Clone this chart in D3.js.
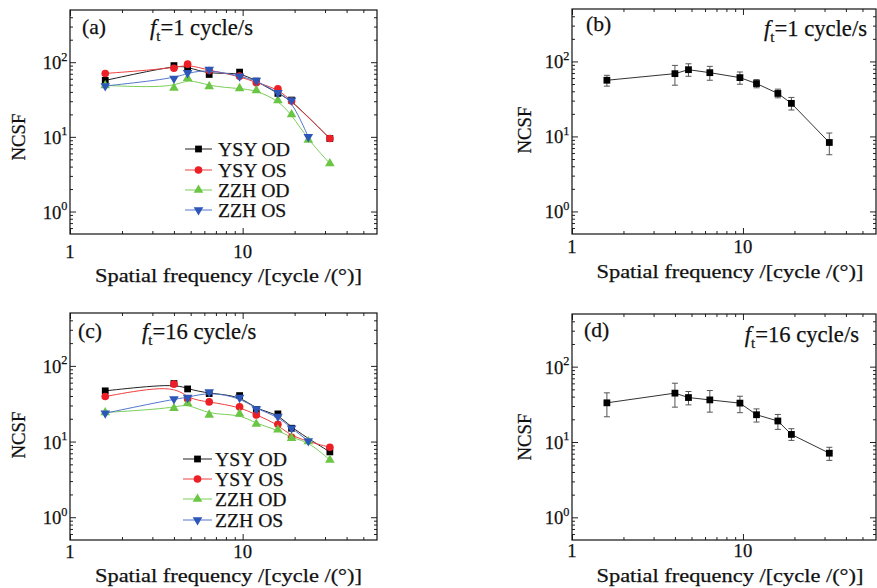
<!DOCTYPE html>
<html><head><meta charset="utf-8">
<script src="https://cdn.jsdelivr.net/npm/d3@7/dist/d3.min.js"></script>
<style>
html,body{margin:0;padding:0;background:#fff;}
svg{display:block;}
text{font-family:"Liberation Serif","Times New Roman",serif;fill:#111;stroke:#111;stroke-width:0.25px;}
</style></head>
<body>
<svg id="chart" width="877" height="588"></svg>
<script>
// ---------- data ----------
const ysyFreq = [1.6, 4, 4.8, 6.4, 9.6, 12, 16, 19.2, 32];
const zzhOdFreq = [1.6, 4, 4.8, 6.4, 9.6, 12, 16, 19.2, 24, 32];
const zzhOsFreq = [1.6, 4, 4.8, 6.4, 9.6, 12, 16, 19.2, 24];
const avgFreq = [1.6, 4, 4.8, 6.4, 9.6, 12, 16, 19.2, 32];

// panel (a): f_t = 1 cycle/s
const aYsyOD = [57, 90, 87, 68.5, 73.6, 55.8, 38.2, 31.1, 9.5];
const aYsyOS = [70.6, 83, 94, 77.4, 65, 53, 44, 30.2, 9.5];
const aZzhOD = [48.8, 45, 61.2, 47.4, 44.6, 41.9, 30.8, 19.9, 9.1, 4.4];
const aZzhOS = [48, 60.5, 72, 79.8, 65, 57, 39, 31, 10];

// panel (b): mean with error bars, f_t = 1 cycle/s
const bMean = [56.1, 68.7, 77.6, 70.8, 60.8, 50.7, 37.4, 27.6, 8.3];
const bHigh = [65.3, 88.5, 93, 85.9, 72.3, 57.3, 42.7, 33.1, 11.1];
const bLow  = [46.8, 48.2, 63.4, 56.1, 49.6, 44.5, 32.7, 22.5, 5.7];

// panel (c): f_t = 16 cycle/s
const cYsyOD = [46.8, 58.5, 49.6, 43.1, 40.5, 26.5, 23.2, 15, 7.3];
const cYsyOS = [39.4, 57.3, 36.6, 33.4, 28.7, 22.5, 16.9, 11.4, 8.4];
const cZzhOD = [24.2, 27.6, 32.1, 22.5, 23.2, 17.1, 14.3, 11.1, 10, 5.7];
const cZzhOS = [23.7, 36.6, 38.1, 45.3, 38.1, 27, 21.4, 15, 10.2];

// panel (d): mean with error bars, f_t = 16 cycle/s
const dMean = [33.1, 44.5, 38.9, 36.2, 32.8, 23, 19, 12.6, 7.1];
const dHigh = [44.9, 60.3, 46.8, 48.2, 40.5, 27.5, 23.2, 15, 8.5];
const dLow  = [21.6, 29, 31.1, 24.9, 24.5, 18.4, 14.7, 10.5, 5.7];

const seriesNames = ["YSY OD", "YSY OS", "ZZH OD", "ZZH OS"];
const xTickLabels = ["1", "10"];
const xMajor = [1, 10];
const xMinor = [2,3,4,5,6,7,8,9,20,30,40,50];
const yMajor = [1, 10, 100];
const yMajorExp = ["0", "1", "2"];
const yMinor = [0.6,0.7,0.8,0.9,2,3,4,5,6,7,8,9,20,30,40,50,60,70,80,90,200,300,400];
const xDomain = [1, 60];
const yDomain = [0.5, 500];
const xTitle = "Spatial frequency /[cycle /(°)]";
const yTitle = "NCSF";

// ---------- styles ----------
const styles = [
  {color:"#000000", line:"#222222", sym:d3.symbolSquare, size:46, rot:0},
  {color:"#ec1f26", line:"#ee4040", sym:d3.symbolCircle, size:46, rot:0},
  {color:"#6cc646", line:"#7acf58", sym:d3.symbolTriangle, size:40, rot:0},
  {color:"#2c56b8", line:"#5277cc", sym:d3.symbolTriangle, size:40, rot:180}
];

const svg = d3.select("#chart");
svg.append("rect").attr("width",877).attr("height",588).attr("fill","#fff");

function measure(str, size){
  const t = svg.append("text").attr("font-size",size).text(str);
  const w = t.node().getComputedTextLength();
  t.remove();
  return w;
}
function addFt(parent, size, rest){
  const ft = parent.append("text").attr("font-size",size);
  ft.append("tspan").attr("font-style","italic").text("f");
  ft.append("tspan").attr("dy",6).attr("font-size",size*0.65).text("t");
  ft.append("tspan").attr("dy",-6).text(rest);
  return ft;
}
const k = 72 / measure("YSY OD", 20);
const fsLegend = 20*k;
const fsTick = Math.min(24, 19*k);
const fsLetter = 20 * 24 / measure("(a)", 20);
const fsNcsf = 20 * 47 / measure("NCSF", 20);
const tmpFt = addFt(svg, 20, "=1 cycle/s");
const fsFt = Math.min(26, 20 * 103 / tmpFt.node().getComputedTextLength());
tmpFt.remove();

function makePanel(p){
  const g = svg.append("g");
  const x = d3.scaleLog().domain(xDomain).range([p.x0, p.x1]);
  const y = d3.scaleLog().domain(yDomain).range([p.y1, p.y0]);
  const axStyle = sel => { sel.select(".domain").remove(); sel.selectAll("line").attr("stroke","#222").attr("stroke-width",1); sel.selectAll("text").remove(); };
  g.append("g").attr("transform",`translate(0,${p.y1})`).call(d3.axisBottom(x).tickValues(xMajor).tickSize(-6)).call(axStyle);
  g.append("g").attr("transform",`translate(0,${p.y1})`).call(d3.axisBottom(x).tickValues(xMinor).tickSize(-3)).call(axStyle);
  g.append("g").attr("transform",`translate(0,${p.y0})`).call(d3.axisTop(x).tickValues(xMajor).tickSize(-6)).call(axStyle);
  g.append("g").attr("transform",`translate(0,${p.y0})`).call(d3.axisTop(x).tickValues(xMinor).tickSize(-3)).call(axStyle);
  g.append("g").attr("transform",`translate(${p.x0},0)`).call(d3.axisLeft(y).tickValues(yMajor).tickSize(-6)).call(axStyle);
  g.append("g").attr("transform",`translate(${p.x0},0)`).call(d3.axisLeft(y).tickValues(yMinor).tickSize(-3)).call(axStyle);
  g.append("g").attr("transform",`translate(${p.x1},0)`).call(d3.axisRight(y).tickValues(yMajor).tickSize(-6)).call(axStyle);
  g.append("g").attr("transform",`translate(${p.x1},0)`).call(d3.axisRight(y).tickValues(yMinor).tickSize(-3)).call(axStyle);
  g.append("rect").attr("x",p.x0).attr("y",p.y0).attr("width",p.x1-p.x0).attr("height",p.y1-p.y0)
    .attr("fill","none").attr("stroke","#111").attr("stroke-width",1.2);
  xMajor.forEach((v,i)=>{
    g.append("text").attr("x",x(v)).attr("y",p.y1+p.xlab).attr("text-anchor","middle")
      .attr("font-size",fsTick).text(xTickLabels[i]);
  });
  yMajor.forEach((v,i)=>{
    const t = g.append("text").attr("x",p.x0-2.5).attr("y",y(v)+7).attr("text-anchor","end").attr("font-size",fsTick);
    t.append("tspan").text("10");
    t.append("tspan").attr("dy",-8.5).attr("font-size",fsTick*0.66).text(yMajorExp[i]);
  });
  g.append("text").attr("x",p.tx).attr("y",p.titleY).attr("text-anchor","middle")
    .attr("font-size",fsTick).attr("textLength",267).attr("lengthAdjust","spacingAndGlyphs").text(xTitle);
  g.append("text").attr("transform",`translate(${p.yTitleX},${p.yTitleY}) rotate(-90)`)
    .attr("text-anchor","middle").attr("font-size",fsNcsf).text(yTitle);
  g.append("text").attr("x",p.lx).attr("y",p.ly).attr("font-size",fsLetter).text(p.letter);
  addFt(g, fsFt, p.ftText).attr("x",p.fx).attr("y",p.fy).attr("text-anchor",p.fanchor);
  return {g,x,y};
}

function drawSeries(P, xs, ys, st, curve){
  const pts = xs.map((f,i)=>[P.x(f), P.y(ys[i])]);
  P.g.append("path").attr("d", d3.line().curve(curve)(pts)).attr("fill","none")
    .attr("stroke",st.line).attr("stroke-width",1);
  P.g.selectAll(null).data(pts).enter().append("path")
    .attr("d", d3.symbol().type(st.sym).size(st.size)())
    .attr("transform",d=>`translate(${d[0]},${d[1]}) rotate(${st.rot})`)
    .attr("fill",st.color);
}

function drawLegend(P, lx0, lx1, tx, rows){
  seriesNames.forEach((name,i)=>{
    const st = styles[i], cy = rows[i];
    P.g.append("line").attr("x1",lx0).attr("x2",lx1).attr("y1",cy).attr("y2",cy).attr("stroke",st.line).attr("stroke-width",1);
    P.g.append("path").attr("d", d3.symbol().type(st.sym).size(st.size)())
      .attr("transform",`translate(${(lx0+lx1)/2},${cy}) rotate(${st.rot})`).attr("fill",st.color);
    P.g.append("text").attr("x",tx).attr("y",cy+7).attr("font-size",fsLegend).text(name);
  });
}

function drawAvg(P, xs, mean, hi, lo){
  xs.forEach((f,i)=>{
    const cx = P.x(f);
    P.g.append("line").attr("x1",cx).attr("x2",cx).attr("y1",P.y(hi[i])).attr("y2",P.y(lo[i])).attr("stroke","#555").attr("stroke-width",1);
    [hi[i],lo[i]].forEach(v=>P.g.append("line").attr("x1",cx-3).attr("x2",cx+3).attr("y1",P.y(v)).attr("y2",P.y(v)).attr("stroke","#555").attr("stroke-width",1));
  });
  const pts = xs.map((f,i)=>[P.x(f), P.y(mean[i])]);
  P.g.append("path").attr("d", d3.line()(pts)).attr("fill","none").attr("stroke","#333").attr("stroke-width",1);
  P.g.selectAll(null).data(pts).enter().append("path")
    .attr("d", d3.symbol().type(d3.symbolSquare).size(46)())
    .attr("transform",d=>`translate(${d[0]},${d[1]})`).attr("fill","#000");
}

const PA = makePanel({x0:70,x1:377,y0:10,y1:234,xlab:24,tx:228.5,titleY:282,yTitleX:25,yTitleY:137,
  letter:"(a)",lx:82,ly:34,fx:150,fy:35,fanchor:"start",ftText:"=1 cycle/s"});
const PB = makePanel({x0:572,x1:876,y0:9,y1:234,xlab:19,tx:730,titleY:278,yTitleX:531,yTitleY:130,
  letter:"(b)",lx:586,ly:31,fx:867,fy:36,fanchor:"end",ftText:"=1 cycle/s"});
const PC = makePanel({x0:70,x1:377,y0:313,y1:540,xlab:18,tx:228.5,titleY:582,yTitleX:25,yTitleY:435,
  letter:"(c)",lx:78,ly:338,fx:142,fy:339,fanchor:"start",ftText:"=16 cycle/s"});
const PD = makePanel({x0:572,x1:876,y0:314,y1:540,xlab:17,tx:730,titleY:582,yTitleX:531,yTitleY:437,
  letter:"(d)",lx:584,ly:337,fx:859,fy:342,fanchor:"end",ftText:"=16 cycle/s"});

drawSeries(PA, ysyFreq, aYsyOD, styles[0], d3.curveBasis);
drawSeries(PA, ysyFreq, aYsyOS, styles[1], d3.curveBasis);
drawSeries(PA, zzhOdFreq, aZzhOD, styles[2], d3.curveBasis);
drawSeries(PA, zzhOsFreq, aZzhOS, styles[3], d3.curveBasis);
drawLegend(PA, 185, 212, 218, [149, 170, 190, 210]);

drawSeries(PC, ysyFreq, cYsyOD, styles[0], d3.curveBasis);
drawSeries(PC, ysyFreq, cYsyOS, styles[1], d3.curveBasis);
drawSeries(PC, zzhOdFreq, cZzhOD, styles[2], d3.curveBasis);
drawSeries(PC, zzhOsFreq, cZzhOS, styles[3], d3.curveBasis);
drawLegend(PC, 183, 212, 215, [459, 479, 499, 520]);

drawAvg(PB, avgFreq, bMean, bHigh, bLow);
drawAvg(PD, avgFreq, dMean, dHigh, dLow);
</script>
</body></html>
